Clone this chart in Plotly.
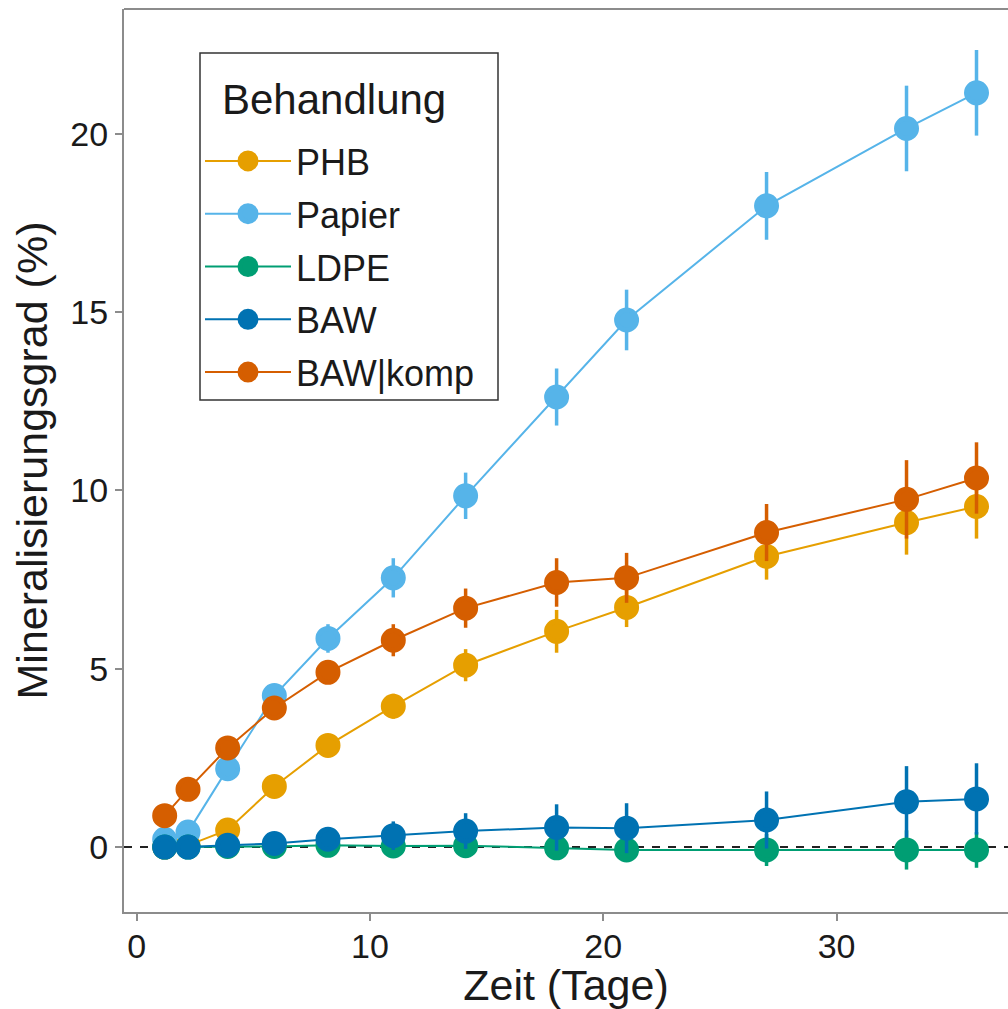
import plotly.graph_objects as go

days = [1.2, 2.2, 3.9, 5.9, 8.2, 11.0, 14.1, 18.0, 21.0, 27.0, 33.0, 36.0]

phb = [0.0, 0.05, 0.48, 1.7, 2.85, 3.95, 5.1, 6.05, 6.72, 8.15, 9.1, 9.55]
phb_err = [0.05, 0.08, 0.15, 0.2, 0.25, 0.35, 0.45, 0.6, 0.55, 0.65, 0.9, 0.9]
papier = [0.22, 0.42, 2.2, 4.25, 5.85, 7.55, 9.85, 12.62, 14.78, 17.98, 20.15, 21.15]
papier_err = [0.1, 0.15, 0.2, 0.3, 0.4, 0.55, 0.65, 0.8, 0.85, 0.95, 1.2, 1.2]
ldpe = [0.0, 0.0, 0.02, 0.02, 0.05, 0.03, 0.04, -0.02, -0.08, -0.08, -0.08, -0.08]
ldpe_err = [0.05, 0.05, 0.08, 0.1, 0.15, 0.2, 0.2, 0.25, 0.3, 0.45, 0.55, 0.5]
baw = [0.0, 0.0, 0.05, 0.1, 0.22, 0.32, 0.45, 0.55, 0.53, 0.76, 1.27, 1.35]
baw_err = [0.05, 0.08, 0.1, 0.15, 0.3, 0.4, 0.5, 0.65, 0.7, 0.8, 1.0, 1.0]
bawk = [0.88, 1.62, 2.78, 3.9, 4.9, 5.8, 6.7, 7.42, 7.55, 8.82, 9.75, 10.35]
bawk_err = [0.1, 0.15, 0.2, 0.25, 0.3, 0.45, 0.55, 0.68, 0.7, 0.8, 1.1, 1.0]

names = ["PHB", "Papier", "LDPE", "BAW", "BAW|komp"]
values = [phb, papier, ldpe, baw, bawk]
errors = [phb_err, papier_err, ldpe_err, baw_err, bawk_err]
colors = ["#E69F00", "#56B4E9", "#009E73", "#0072B2", "#D55E00"]

x_ticks = [0, 10, 20, 30]
y_ticks = [0, 5, 10, 15, 20]
legend_title = "Behandlung"

FONT = "Liberation Sans, Arial, sans-serif"
TXT = "#1a1a1a"
BORDER = "#8c8c8c"

# panel geometry in pixels (figure 1008 x 1009)
W, H = 1008, 1009
L, R, T, B = 124, 0, 9, 97
PW, PH = W - L - R, H - T - B


def px(x):
    return (x - L) / PW


def py(y):
    return (H - B - y) / PH


fig = go.Figure()
for name, y, e, c in zip(names, values, errors, colors):
    fig.add_trace(go.Scatter(
        x=days, y=y, name=name, mode="lines+markers",
        legendgroup=name,
        line=dict(color=c, width=2),
        marker=dict(color=c, size=20, line=dict(color=c, width=5)),
        error_y=dict(type="data", array=e, visible=True, color=c,
                     thickness=3.5, width=0),
    ))

fig.add_hline(y=0, line=dict(color="#222222", width=2, dash="8px,8px"),
              layer="below")
# top border of the panel
fig.add_shape(type="line", xref="paper", yref="paper", x0=0, x1=1, y0=1, y1=1,
              line=dict(color=BORDER, width=2))
# legend frame
fig.add_shape(type="rect", xref="paper", yref="paper",
              x0=px(200), x1=px(498), y0=py(400), y1=py(53),
              line=dict(color="#333333", width=1.5), fillcolor="white", layer="below")
fig.add_annotation(text=legend_title, xref="paper", yref="paper",
                   x=px(220), y=py(100), xanchor="left", yanchor="middle",
                   showarrow=False, font=dict(size=42, family=FONT, color=TXT))

fig.update_layout(
    width=W, height=H,
    margin=dict(l=L, r=R, t=T, b=B),
    paper_bgcolor="white", plot_bgcolor="white",
    font=dict(family=FONT, color=TXT, size=34),
    showlegend=True,
    legend=dict(
        x=px(200), y=py(131), xanchor="left", yanchor="top",
        bgcolor="rgba(0,0,0,0)", borderwidth=0,
        font=dict(size=36, family=FONT, color=TXT),
        tracegroupgap=3,
        itemwidth=86,
    ),
    xaxis=dict(
        range=[-0.544, 37.35], tickvals=x_ticks, ticktext=[str(v) for v in x_ticks],
        showgrid=False, zeroline=False,
        showline=True, linecolor=BORDER, linewidth=2,
        ticks="outside", ticklen=7, tickwidth=1.5, tickcolor=BORDER,
        ticklabelstandoff=-4,
        tickfont=dict(size=34, family=FONT, color=TXT),
        title=dict(text="Zeit (Tage)", font=dict(size=43, family=FONT, color=TXT), standoff=14),
    ),
    yaxis=dict(
        range=[-1.82, 23.5], tickvals=y_ticks, ticktext=[str(v) for v in y_ticks],
        showgrid=False, zeroline=False,
        showline=True, linecolor=BORDER, linewidth=2,
        ticks="outside", ticklen=7, tickwidth=1.5, tickcolor=BORDER,
        tickfont=dict(size=34, family=FONT, color=TXT),
        title=dict(text="Mineralisierungsgrad (%)", font=dict(size=43, family=FONT, color=TXT), standoff=9),
    ),
)

fig.write_html("out.html", config={"displayModeBar": False},
               post_script="document.body.style.margin='0';")
